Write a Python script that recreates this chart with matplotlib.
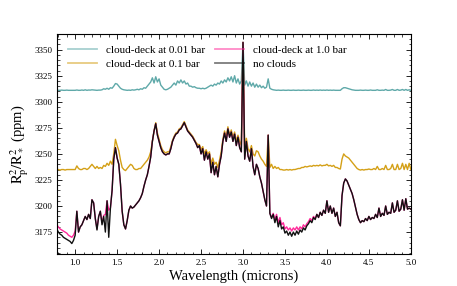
import numpy as np
import matplotlib
matplotlib.use('Agg')
import matplotlib.pyplot as plt
from matplotlib.lines import Line2D
from matplotlib.ticker import MultipleLocator

plt.rcParams['font.family'] = ['Liberation Serif', 'DejaVu Serif']
plt.rcParams['mathtext.fontset'] = 'stix'

# ========== Data ==========
# common wavelength grid, microns
wavelength = np.round(np.arange(0.78, 5.001, 0.02), 2)

# transit depth, ppm
no_clouds = [
    3178, 3175, 3173, 3172, 3170, 3169, 3168, 3167, 3166, 3164,
    3167, 3172, 3195, 3175, 3180, 3182, 3186, 3190, 3187, 3192,
    3188, 3206, 3203, 3188, 3177, 3190, 3195, 3182, 3190, 3175,
    3205, 3170, 3198, 3215, 3245, 3256, 3246, 3240, 3221, 3195,
    3182, 3178, 3186, 3196, 3200, 3198, 3199, 3201, 3203, 3205,
    3208, 3212, 3219, 3225, 3230, 3238, 3247, 3262, 3272, 3279,
    3268, 3262, 3256, 3252, 3250, 3249, 3250, 3250, 3255, 3262,
    3266, 3269, 3270, 3273, 3274, 3277, 3280, 3276, 3272, 3270,
    3268, 3266, 3263, 3260, 3256, 3258, 3250, 3255, 3244, 3252,
    3245, 3250, 3232, 3242, 3230, 3238, 3228, 3240, 3248, 3262,
    3270, 3262, 3274, 3266, 3271, 3262, 3269, 3258, 3266, 3256,
    3252, 3357, 3245, 3262, 3248, 3243, 3255, 3238, 3230, 3240,
    3236, 3228, 3222, 3214, 3206, 3200, 3268, 3193, 3188, 3192,
    3184, 3190, 3180, 3186, 3178, 3180, 3174, 3176, 3172, 3175,
    3171, 3175, 3172, 3176, 3173, 3177, 3175, 3179, 3177, 3181,
    3183, 3186, 3184, 3189, 3187, 3192, 3189, 3194, 3191, 3196,
    3193, 3205, 3194, 3200, 3193, 3198, 3190, 3194, 3184, 3181,
    3210, 3222, 3226, 3224, 3220, 3216, 3212, 3206, 3199, 3192,
    3187, 3184, 3186, 3185, 3188, 3186, 3190, 3187, 3189, 3188,
    3192, 3189, 3198, 3190, 3193, 3191, 3200, 3192, 3194, 3193,
    3203, 3194, 3196, 3205, 3195, 3197, 3206, 3196, 3207, 3197,
    3198, 3197,
]

deck_1bar = [
    3182, 3180, 3178, 3177, 3176, 3175, 3174, 3172, 3171, 3170,
    3172, 3176, 3195, 3175, 3180, 3182, 3186, 3190, 3187, 3192,
    3188, 3206, 3203, 3188, 3178, 3190, 3195, 3184, 3191, 3192,
    3205, 3196, 3198, 3215, 3245, 3256, 3246, 3240, 3221, 3195,
    3182, 3178, 3186, 3196, 3200, 3198, 3199, 3201, 3203, 3205,
    3208, 3212, 3219, 3225, 3230, 3238, 3247, 3262, 3272, 3279,
    3268, 3262, 3256, 3252, 3250, 3249, 3250, 3250, 3255, 3262,
    3266, 3269, 3270, 3273, 3274, 3277, 3280, 3276, 3272, 3270,
    3268, 3266, 3263, 3260, 3256, 3258, 3250, 3255, 3244, 3252,
    3245, 3250, 3232, 3242, 3230, 3238, 3228, 3240, 3248, 3262,
    3270, 3262, 3274, 3266, 3271, 3262, 3269, 3258, 3266, 3256,
    3252, 3357, 3245, 3262, 3248, 3243, 3255, 3238, 3230, 3240,
    3236, 3228, 3222, 3214, 3206, 3200, 3268, 3193, 3189, 3193,
    3187, 3192, 3184, 3189, 3182, 3184, 3178, 3180, 3177, 3179,
    3176, 3179, 3177, 3180, 3177, 3180, 3178, 3182, 3180, 3183,
    3185, 3188, 3186, 3190, 3188, 3192, 3189, 3194, 3191, 3196,
    3193, 3205, 3194, 3200, 3193, 3198, 3190, 3194, 3184, 3181,
    3210, 3222, 3226, 3224, 3220, 3216, 3212, 3206, 3199, 3192,
    3187, 3184, 3186, 3185, 3188, 3186, 3190, 3187, 3189, 3188,
    3192, 3189, 3198, 3190, 3193, 3191, 3200, 3192, 3194, 3193,
    3203, 3194, 3196, 3205, 3195, 3197, 3206, 3196, 3207, 3197,
    3198, 3197,
]

deck_01bar = [
    3235, 3235, 3234.5, 3235, 3235, 3234.5, 3235, 3235, 3235, 3235,
    3235, 3235, 3238.5, 3236, 3235, 3235, 3236, 3236, 3235, 3236,
    3238, 3240, 3238, 3236, 3238, 3236, 3237, 3236, 3239, 3238,
    3241, 3239, 3243, 3240, 3250, 3264, 3258, 3253, 3244, 3237,
    3235, 3234, 3236, 3238, 3240, 3239, 3236, 3235, 3235, 3236,
    3236, 3238, 3240, 3242, 3244, 3247, 3252, 3262, 3272, 3280,
    3270, 3264, 3258, 3254, 3252, 3251, 3252, 3252, 3257, 3263,
    3267, 3270, 3271, 3274, 3275, 3278, 3281, 3277, 3273, 3271,
    3269, 3267, 3264, 3261, 3259, 3259, 3254, 3257, 3250, 3254,
    3250, 3252, 3240, 3246, 3240, 3242, 3237, 3244, 3252, 3264,
    3272, 3266, 3276, 3268, 3273, 3266, 3271, 3262, 3268, 3262,
    3258, 3357, 3255, 3265, 3255, 3252, 3258, 3250, 3248, 3253,
    3252, 3248, 3245, 3243, 3240, 3238, 3268, 3237, 3240, 3236,
    3238, 3236, 3237, 3235, 3235, 3234.5, 3234.5, 3235, 3234.5, 3235,
    3234.5, 3235, 3235, 3235.5, 3236, 3236, 3237, 3237, 3238, 3237.5,
    3238, 3238.5, 3238, 3239, 3238.5, 3239, 3238.5, 3239.5, 3238.5, 3239,
    3239, 3240, 3238.5, 3239, 3238, 3239, 3237, 3237, 3236, 3235.5,
    3245, 3250, 3248, 3247, 3246, 3244, 3242, 3240, 3238, 3236,
    3235, 3234.5, 3235, 3234.5, 3235, 3235, 3235.5, 3235, 3235, 3236,
    3235, 3238, 3235, 3235, 3236, 3235, 3239, 3235, 3235, 3236,
    3240, 3235, 3235, 3240, 3235, 3236, 3241, 3235, 3240, 3235,
    3241, 3235,
]

deck_001bar = [
    3311, 3311, 3311, 3311.2, 3311, 3311, 3311.2, 3311, 3311, 3311,
    3311, 3311, 3311.3, 3311, 3311, 3311.3, 3311, 3311.5, 3311, 3311.3,
    3311.2, 3311.5, 3311.3, 3311.2, 3311, 3311.2, 3311.2, 3311.5, 3312.5, 3312,
    3313, 3312, 3313.5, 3313, 3315, 3317.5, 3317, 3315, 3313, 3312,
    3311.5, 3311.2, 3311, 3311.2, 3311, 3311.5, 3311.2, 3311.5, 3312, 3311.5,
    3312.5, 3312, 3313.5, 3313, 3315, 3317, 3319, 3323, 3318, 3324,
    3319, 3322, 3316, 3314, 3312, 3311.5, 3312, 3313, 3314, 3316,
    3318, 3316, 3320, 3318, 3321, 3318, 3320, 3317, 3318, 3315,
    3315, 3314, 3314.5, 3313.5, 3313, 3313, 3312.5, 3313, 3312.5, 3313,
    3314, 3315, 3316, 3315, 3317, 3316, 3318, 3317, 3320, 3318,
    3321, 3319, 3323, 3320, 3324, 3319, 3325, 3318, 3322, 3317,
    3320, 3357, 3316, 3320, 3315, 3319, 3315, 3318, 3314, 3317,
    3314, 3316, 3313.5, 3315, 3313, 3314, 3322, 3313, 3312, 3311.5,
    3311.3, 3311, 3311.2, 3311, 3311, 3311.2, 3311, 3311, 3311.2, 3311,
    3311, 3311.2, 3311, 3311, 3311.2, 3311, 3311, 3311.2, 3311, 3311,
    3311.2, 3311, 3311, 3311.3, 3311, 3311.2, 3311, 3311.3, 3311, 3311.2,
    3311, 3311.3, 3311, 3311.2, 3311, 3311.2, 3311, 3311, 3311, 3311,
    3312.5, 3313.5, 3313.5, 3313, 3312.5, 3312, 3311.5, 3311.2, 3311, 3311,
    3311, 3311.2, 3311, 3311, 3311.2, 3311, 3311, 3311.3, 3311, 3311,
    3311, 3311.5, 3311, 3311, 3311.2, 3311, 3311.8, 3311, 3311, 3311.2,
    3311.8, 3311, 3311, 3311.8, 3311, 3311.2, 3311.8, 3311, 3311.8, 3311,
    3311.5, 3311,
]

labels = ['cloud-deck at 0.01 bar', 'cloud-deck at 0.1 bar',
          'cloud-deck at 1.0 bar', 'no clouds']
colors = ['#5fa9a9', '#d4a017', '#ff2a9a', '#111111']

# ========== Plot ==========
fig = plt.figure(figsize=(4.57, 2.86), dpi=100)
ax = fig.add_axes([0.125, 0.112, 0.774, 0.769])

series = [deck_001bar, deck_01bar, deck_1bar, no_clouds]
for vals, c in zip(series, colors):
    ax.plot(wavelength, vals, color=c, lw=1.0)

ax.set_xlim(0.785, 5.0)
ax.set_ylim(3154, 3365)
ax.xaxis.set_major_locator(MultipleLocator(0.5))
ax.xaxis.set_minor_locator(MultipleLocator(0.1))
ax.yaxis.set_major_locator(MultipleLocator(25))
ax.yaxis.set_minor_locator(MultipleLocator(5))
ax.tick_params(which='both', direction='in', top=True, right=True, labelsize=6.5)
ax.tick_params(which='major', length=3.5, width=0.6)
ax.tick_params(which='minor', length=1.8, width=0.5)
for s in ax.spines.values():
    s.set_linewidth(0.8)

ax.set_xlabel('Wavelength (microns)', fontsize=10.5, labelpad=2)
ax.set_ylabel(r'$\mathrm{R}_\mathrm{p}^2/\mathrm{R}_*^2$ (ppm)', fontsize=10.5, labelpad=2)

# legend handles are drawn lighter than the curves
handles = [Line2D([], [], color=c, lw=1.3, alpha=0.55) for c in colors]
ax.legend(handles, labels, ncol=2, loc='upper left', frameon=False,
          fontsize=8, handlelength=2.6, columnspacing=0.9,
          borderaxespad=0.6, labelspacing=0.35)

plt.savefig('out.png', dpi=100)
